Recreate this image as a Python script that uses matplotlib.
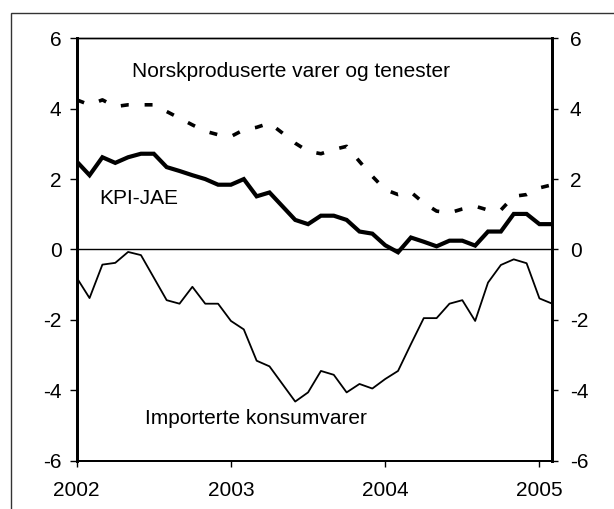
import numpy as np
import matplotlib
matplotlib.use('Agg')
import matplotlib.pyplot as plt
from matplotlib.patches import Rectangle

plt.rcParams['font.family'] = ['Liberation Sans', 'DejaVu Sans']
plt.rcParams['axes.unicode_minus'] = False

# ── DATA (monthly, Jan 2002 - Feb 2005, 12-month change in %) ───────
MONTHS = np.arange(38)          # 0 = Jan 2002
YEAR_TICKS = [0, 12, 24, 36]
YEAR_LABELS = ['2002', '2003', '2004', '2005']

KPI_JAE = [2.50, 2.11, 2.62, 2.46, 2.62, 2.72, 2.72, 2.34, 2.23, 2.11,
           2.00, 1.84, 1.84, 2.00, 1.51, 1.62, 1.23, 0.84, 0.72, 0.96,
           0.96, 0.84, 0.51, 0.45, 0.12, -0.08, 0.34, 0.22, 0.09, 0.25,
           0.25, 0.11, 0.51, 0.51, 1.01, 1.01, 0.72, 0.72]

NORSK = [4.25, 4.11, 4.25, 4.06, 4.11, 4.11, 4.11, 3.92, 3.73, 3.54,
         3.36, 3.26, 3.21, 3.40, 3.47, 3.59, 3.31, 3.02, 2.79, 2.72,
         2.84, 2.93, 2.50, 2.08, 1.70, 1.56, 1.63, 1.32, 1.09, 1.04,
         1.15, 1.23, 1.12, 1.12, 1.51, 1.56, 1.75, 1.84]

IMPORT = [-0.80, -1.38, -0.43, -0.38, -0.07, -0.16, -0.80, -1.44, -1.54, -1.06,
          -1.54, -1.54, -2.03, -2.27, -3.16, -3.32, -3.82, -4.32, -4.06, -3.45,
          -3.56, -4.06, -3.82, -3.95, -3.68, -3.45, -2.69, -1.95, -1.95, -1.54,
          -1.44, -2.03, -0.94, -0.44, -0.28, -0.39, -1.39, -1.54]

# ── FIGURE ────────────────────────────────────────────────────────
fig = plt.figure(figsize=(6.14, 5.09), dpi=100)
fig.patch.set_facecolor('white')

# outer frame (runs off the right / bottom edge)
fig.patches.append(Rectangle((0.0179, -0.2), 1.3, 1.175, transform=fig.transFigure,
                             fill=False, edgecolor='#333333', linewidth=1.0,
                             clip_on=False))

ax = fig.add_axes([0.1249, 0.0949, 0.7746, 0.8299])

ax.axhline(0, color='black', linewidth=1.0, zorder=1)
ax.plot(MONTHS, NORSK, color='black', linewidth=2.6,
        linestyle=(0, (2.2, 4.4)), dash_capstyle='butt', zorder=3)
ax.plot(MONTHS, KPI_JAE, color='black', linewidth=3.0,
        solid_joinstyle='miter', zorder=3)
ax.plot(MONTHS, IMPORT, color='black', linewidth=1.3, zorder=2)

ax.set_xlim(0, 37)
ax.set_ylim(-6, 6)
ax.set_yticks(np.arange(-6, 7, 2))
ax.set_xticks(YEAR_TICKS)
ax.set_xticklabels(YEAR_LABELS)

ax.tick_params(axis='x', direction='out', length=4.5, width=1.0,
               labelsize=15, pad=10)
ax.tick_params(axis='y', direction='out', length=5, width=1.0,
               labelsize=15, pad=6)

ax2 = ax.twinx()
ax2.set_ylim(-6, 6)
ax2.set_yticks(np.arange(-6, 7, 2))
ax2.tick_params(axis='y', direction='out', length=4.5, width=1.0,
                labelsize=15, pad=8)

for a in (ax, ax2):
    a.spines['left'].set_linewidth(2.0)
    a.spines['right'].set_linewidth(2.0)
    a.spines['bottom'].set_linewidth(1.3)
    a.spines['top'].set_linewidth(1.0)

# ── LABELS ────────────────────────────────────────────────────────
ax.text(4.28, 4.91, 'Norskproduserte varer og tenester', fontsize=15,
        ha='left', va='baseline')
ax.text(1.76, 1.28, 'KPI-JAE', fontsize=15, ha='left', va='baseline')
ax.text(5.32, -4.97, 'Importerte konsumvarer', fontsize=15,
        ha='left', va='baseline')

plt.savefig('out.png', dpi=100, facecolor='white')
plt.close()
